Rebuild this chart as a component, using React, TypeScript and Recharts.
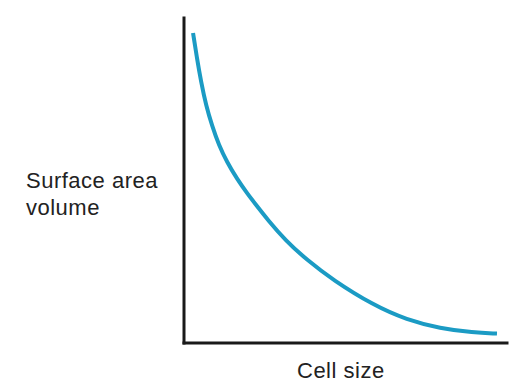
import React from 'react';
import { LineChart, Line, XAxis, YAxis, ReferenceLine } from 'recharts';

// values (x: cell size, y: surface area / volume), 0-100 scale
const cellSize = [2.8, 4.0, 5.3, 6.8, 8.7, 10.8, 13.3, 16.4, 19.8, 22.0, 26.0, 31.3, 38.1, 46.1, 58.5, 69.0, 79.3, 89.5, 96.9];
const ratio = [95.4, 87.7, 80.3, 73.2, 66.8, 60.9, 55.7, 50.5, 45.7, 42.9, 37.8, 31.7, 25.5, 19.4, 11.7, 7.1, 4.5, 3.2, 2.9];

const yLabel = ['Surface area', 'volume'];
const xLabel = 'Cell size';

const data = cellSize.map((x, i) => ({ x, y: ratio[i] }));

const textStyle: React.CSSProperties = {
  fontFamily: '"Liberation Sans", Arial, sans-serif',
  fontSize: 22,
  letterSpacing: 0.5,
  fill: '#222222',
};

const App = () => {
  return (
    <div style={{ position: 'absolute', left: 0, top: 0, width: 526, height: 392, background: '#fff' }}>
      <LineChart
        width={526}
        height={392}
        data={data}
        margin={{ top: 18, right: 19, left: 184, bottom: 49 }}
      >
        <XAxis dataKey="x" type="number" domain={[0, 100]} hide />
        <YAxis type="number" domain={[0, 100]} hide />
        <ReferenceLine x={0} stroke="#1a1a1a" strokeWidth={3} strokeLinecap="square" />
        <ReferenceLine y={0} stroke="#1a1a1a" strokeWidth={3} strokeLinecap="square" />
        <Line
          type="basis"
          dataKey="y"
          stroke="#1b9bc4"
          strokeWidth={4}
          dot={false}
          isAnimationActive={false}
        />
      </LineChart>
      <svg width={526} height={392} style={{ position: 'absolute', left: 0, top: 0, pointerEvents: 'none' }}>
        <text x={26} y={188} style={textStyle}>{yLabel[0]}</text>
        <text x={26} y={215} style={textStyle}>{yLabel[1]}</text>
        <text x={297} y={378} style={textStyle}>{xLabel}</text>
      </svg>
    </div>
  );
};

export default App;
